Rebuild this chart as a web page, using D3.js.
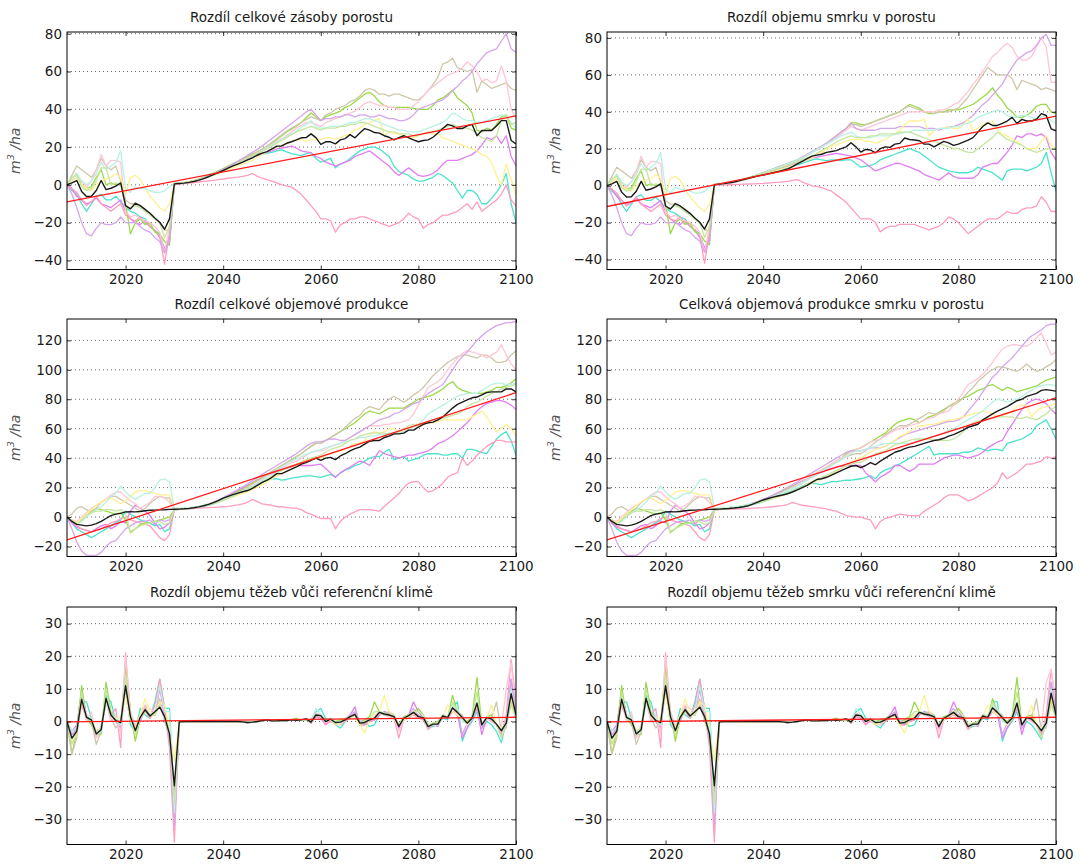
<!DOCTYPE html>
<html><head><meta charset="utf-8">
<script src="https://cdn.jsdelivr.net/npm/d3@7"></script>
<style>body{margin:0;background:#fff}text{font-family:"DejaVu Sans",sans-serif}</style>
</head><body><svg id="c" width="1080" height="864"></svg>
<script>
// ---------- categories ----------
const firstYear = 2008, lastYear = 2100;
const xTickLabels = [2020, 2040, 2060, 2080, 2100];
const titles = ["Rozdíl celkové zásoby porostu","Rozdíl objemu smrku v porostu","Rozdíl celkové objemové produkce","Celková objemová produkce smrku v porostu","Rozdíl objemu těžeb vůči referenční klimě","Rozdíl objemu těžeb smrku vůči referenční klimě"];
const yTicks12 = [-40,-20,0,20,40,60,80];
const yTicks34 = [-20,0,20,40,60,80,100,120];
const yTicks56 = [-30,-20,-10,0,10,20,30];
const yRange1 = [-44.8, 80.9], yRange2 = [-45.4, 83.2], yRange3 = [-26.8, 134.5], yRange4 = [-26.8, 134.5], yRange5 = [-37.7, 35.1], yRange6 = [-37.7, 35.1];
const seriesColors = ["#4ce3cc","#e27ef2","#ff9dbd","#9ada4a","#cfc7aa","#ffc6d6","#d6a6ea","#fff092","#b8f2e4","#c6e6a0"];
// red linear trend, values at first and last year
const trend1 = [-9, 36.5], trend2 = [-11.3, 37.7], trend3 = [-15.5, 84.5], trend4 = [-15.5, 81], trend5 = [-0.1, 1.3], trend6 = [-0.1, 1.3];

// ---------- panel 1 ----------
const p1_A=[0,-3,-5,-10,-14,-10,-6,-5,-8,-8,-6,-9,-12,-14,-15,-17,-18,-22,-24,-26,-34,-30,0.5,0.7,1,1.4,2,2.7,3.5,4.5,5.5,6.6,7.8,9,10.2,11.4,12.5,13.6,14.6,15.5,16.2,16.8,17.2,18,18.5,17.5,16.5,16,15.5,16.5,17,14,12,13,14,9,11,12,14,16,18,19,20,20,19,17,15,10,7,6,5,3,2,2,3,4,6,5,3,1,-3,-7,-3,-3,-5,-10,-10,-7,-4,0,6,-10,-20];
const p1_B=[0,-2,-6,-8,-10,-9,-7,-10,-11,-12,-10,-8,-14,-18,-20,-21,-19,-22,-24,-28,-34,-28,0.4,0.6,0.9,1.3,1.8,2.4,3.2,4.2,5.2,6.3,7.5,8.8,10,11.2,12.4,13.5,14.5,15.5,16.5,17.3,18,19,19.5,20,20.5,19.5,18,17.5,17,15,14,12,11,10,11,12,13,15,16,17,18,16,14,12,10,7,5,7,9,7,5,4.5,5,6,8,11,13,13,13,14,15,16,18,21,25,24,26,22,26,15,10];
const p1_C=[0,-2,-4,-8,-11,-9,-6,-10,-12,-14,-12,-10,-16,-18,-19,-17,-20,-22,-24,-27,-42,-25,0.2,0.4,0.6,0.9,1.2,1.5,1.8,2.1,2.4,2.8,3.1,3.5,3.8,4.1,4.5,5,6,4.5,3.5,2.8,2,1,0,-0.5,-1.2,-3,-5,-8,-11,-14,-18,-18,-19,-25,-21,-20,-18,-18,-17,-17,-18,-19,-20,-21,-22,-21,-20,-18,-15,-17,-18,-23,-21,-20,-18,-16,-16,-15,-14,-12,-10,-13,-9,-14,-12,-10,-8,-5,0,-8,-11];
const p1_D=[0,3,6,0,-2,-1,4,8,0,1,0,1,-10,-26,-20,-18,-21,-20,-25,-26,-30,-32,0.8,1,1.3,1.7,2.3,3,3.9,5,6.2,7.4,8.6,9.9,11.2,12.5,13.8,15,16.3,17.5,19,20.5,22,24,26,28,29.5,31,33,35.5,38,36,34,36,37,38,39,41,42,44,46,48,49,47,44,42,41,41,41,41,41,40.5,40,40,40,42,45,46,48,50,46,44,42,38,29,28,30,29,32,36,37,30,29];
const p1_E=[0,5,10,8,6,4,8,14,10,8,10,2,-8,-10,-10,-12,-14,-15,-18,-20,-24,-24,0.6,0.9,1.2,1.6,2.2,2.9,3.7,4.6,5.6,6.8,8,9.2,10.5,11.8,13,14.4,15.8,17.3,18.8,20.5,22.5,24.5,26.5,28.5,30,31.5,33,34.5,36,35,34,37,38,40,41,42,44,45,47,50,51,50,48,48,47,48,48,47,46,45,45,47,50,53,57,64,65,67,62,61,60,61,49,55,53,51,52,53,54,51,50];
const p1_F=[0,2,4,2,-1,2,8,16,10,13,13,12,-14,-17,-16,-18,-19,-20,-22,-25,-36,-22,0.4,0.7,1,1.4,2,2.6,3.4,4.3,5.3,6.4,7.6,8.8,10,11.3,12.6,14,15.4,16.8,18.2,19.8,21.5,23,24.5,26,28,30,31.5,33,33,32,31,33,34,35,36,37,38,39,41,43,44,43,42,42,41,41,40,40,40,42,44,47,50,52,54,56,58,59,60,62,65,63,60,55,56,54,55,63,55,40,35];
const p1_G=[0,-5,-12,-20,-26,-27,-23,-20,-21,-21,-20,-17,-20,-20,-20,-22,-24,-25,-28,-30,-36,-30,0.5,0.8,1.1,1.5,2.1,2.8,3.7,4.7,5.8,7,8.3,9.6,11,12.4,14,15.6,17.2,18.8,20.5,22.5,24.5,26.5,28.5,30.5,32.5,34.5,36.5,38.5,40,37,34,35,35,36,36,37,37,36,37,37,36,36,37,36,35,35,34,34,35,37,40,41,42,43,44,45,47,50,52,55,57,60,64,67,70,71,72,76,80,72,70];
const p1_H=[0,2,4,0,-2,-3,0,2,3,4,6,4,-5,4,5,3,-2,-6,-9,-12,-14,-10,0.6,0.8,1.1,1.5,2,2.6,3.3,4.1,5,6,7,8,9,10,11,12,13,14.5,16,17.5,19,20,21,22,23,24,24,23,24,24,24,25,25,24,25,26,27,29,30,32,33,34,35,26,28,27,27,26,25,25,26,27,28,27,27,25,24,23,22,21,20,19,18,16,15,12,5,0,11,3,-5];
const p1_I=[0,3,6,2,0,2,6,12,8,10,12,18,-2,-4,-1,-2,-2,-3,-4,-4,-3,-1,0.5,0.8,1.1,1.5,2,2.6,3.4,4.3,5.3,6.4,7.6,8.8,10,11.2,12.5,13.8,15.1,16.5,18,19.5,21,22.5,24,25.5,27,28.5,30.5,32,34,31,30,30,31,31,31,32,33,33,34,35,35,34,33,32,31,30,29,29,28,28,28,29,30,31,32,33,35,38,37,35,34,34,33,33,34,35,36,37,36,33,30];
const p1_J=[0,4,5,-1,-3,-2,2,9,9,0,1,0,-12,-12,-11,-12,-14,-16,-18,-20,-28,-22,0.7,0.9,1.2,1.6,2.1,2.7,3.5,4.4,5.4,6.5,7.7,8.9,10.1,11.3,12.6,13.9,15.2,16.5,17.8,19,20.5,22,23.5,25,26.5,28,29,30,31,30,29,30,30,30,31,31,32,32,33,33,32,31,30,29,28,28,27,27,27,26,26,27,28,28,29,30,31,32,31,30,30,29,27,25,24,23,26,34,37,32,33];
const p1_mean=[0,1,2.3,-3.5,-6.2,-6,-3,2.3,-2.5,-1.8,-0.7,1,-11,-12.7,-9.7,-11,-13,-15,-17.5,-19.8,-23.5,-18,0.5,0.7,0.9,1.3,1.8,2.5,3.3,4.3,5.4,6.5,7.6,8.8,10,11,12,13.2,14.3,15.8,16.8,17.6,19,20.5,20.6,22,22.8,23.8,24.9,25,27,25,21.4,22.8,22.8,21.7,23.8,24.5,26.6,24.9,27.4,29.8,29,27.7,27.4,26,25.2,23.8,25,26,24.9,23.8,22.8,23.5,23.8,25.2,27.4,29.8,32,31.2,29.8,29.8,31.2,32,26,28.8,28.8,28.8,31.2,34,34,23.5,21.7];

// ---------- panel 2 ----------
const p2_A=[0,-3,-5,-10,-14,-10,-6,-5,-8,-8,-6,-9,-12,-14,-15,-17,-18,-22,-24,-26,-34,-30,0.5,0.7,1,1.4,1.9,2.5,3.2,4,4.8,5.5,6.2,6.9,7.6,8.3,9,9.7,10.5,11.3,12.2,13,14,14.5,14,13.5,14,14,13.5,14,14,12,10,10.5,11,12,14,15,16,17,18,19,20,19,18,16,14,12,10,9,8,7.5,7,7,7,8,10,9,8,7,5,3,8,9,9,9,8,9,10,12,18,7,-3];
const p2_B=[0,-2,-6,-8,-10,-9,-7,-10,-11,-12,-10,-8,-14,-18,-20,-21,-19,-22,-24,-28,-34,-28,0.4,0.6,0.9,1.3,1.8,2.4,3.1,3.9,4.7,5.5,6.3,7.1,8,8.8,9.6,10.5,11.4,12.3,13.2,14,15,15.5,16,16.5,17,17.5,17,16.5,16,15,14,12,10,8,9,10,11,12,12,11,10,9,8,6,5,4,3,5,7,5,4,4,4,4,6,10,11,12,12,15,18,22,27,26,28,28,27,28,26,18,14];
const p2_C=[0,-2,-4,-8,-11,-9,-6,-10,-12,-14,-12,-10,-16,-18,-19,-17,-20,-22,-24,-27,-42,-25,0.2,0.3,0.4,0.5,0.6,0.7,0.8,0.9,1,1.1,1.2,1.4,1.6,1.8,2,2.3,2.8,3.3,2,1,0,-0.5,-1,-2,-3,-5,-7,-9,-12,-15,-18,-18,-18,-20,-25,-23,-22,-22,-21,-21,-21,-21,-22,-23,-24,-23,-22,-20,-17,-18,-20,-23,-26,-24,-22,-20,-18,-18,-18,-16,-14,-15,-15,-13,-12,-12,-11,-6,-9,-14,-14];
const p2_D=[0,3,6,0,-2,-1,4,8,0,1,0,1,-10,-26,-20,-18,-21,-20,-25,-26,-30,-32,0.8,1,1.3,1.7,2.2,2.8,3.5,4.3,5.2,6.1,7,8,9,10,11,11.8,12.5,13.5,15,16.5,18,19.5,21,23,25,27,29,31,34,34,33,33,34,35,36,37,38,39,40,42,44,43,42,40,39,39,40,40,41,41,41,42,43,44,46,48,50,53,49,46,42,40,37,37,38,40,43,44,44,40,39];
const p2_E=[0,5,10,8,6,4,8,14,10,8,10,2,-8,-10,-10,-12,-14,-15,-18,-20,-24,-24,0.6,0.9,1.2,1.6,2.1,2.7,3.4,4.2,5.1,6,7,8,9,10,11,12,13,14,15.5,17,18.5,20,21.5,23,25,27,29,31,33,33,32,33,34,35,36,37,38,39,40,42,43,42,41,40,40,39,40,40,40,41,42,45,48,52,56,60,64,62,60,60,60,58,52,57,56,55,54,52,53,52,51];
const p2_F=[0,2,4,2,-1,2,8,16,10,13,13,12,-14,-17,-16,-18,-19,-20,-22,-25,-36,-22,0.4,0.7,1,1.4,1.9,2.5,3.2,4,4.9,5.8,6.8,7.8,8.8,9.8,10.8,11.8,12.9,14,15.2,16.5,18,19.5,21,22.5,24,26,28,30,32,31,30,31,32,33,34,35,36,37,38,39,40,40,40,40,40,40,41,41,42,44,45,48,51,55,58,62,66,70,72,75,77,75,70,68,68,70,75,80,75,56,56];
const p2_G=[0,-5,-12,-20,-26,-27,-23,-20,-21,-21,-20,-17,-20,-20,-20,-22,-24,-25,-28,-30,-36,-30,0.5,0.8,1.1,1.5,2,2.6,3.3,4.1,5,5.9,6.9,7.9,8.9,10,11,12,13,14,15.5,17,18.5,20,21.5,23,25,27,29,31,34,31,30,30,30,30,31,31,31,31,32,32,32,32,32,31,31,31,30,31,32,32,33,34,36,38,41,44,46,49,52,55,60,64,68,70,72,73,76,80,82,76,76];
const p2_H=[0,2,4,0,-2,-3,0,2,3,4,6,4,-5,4,5,3,-2,-6,-9,-12,-14,-10,0.6,0.8,1.1,1.5,2,2.5,3.1,3.8,4.5,5.2,6,6.8,7.6,8.4,9.2,10,11,12,13,14,15,16.5,18,19.5,21,22,23,24,25,25,25,24,24,23,24,25,27,28,30,33,35,35,35,36,27,30,31,31,32,31,31,33,36,30,31,33,34,35,30,28,27,25,24,22,20,20,20,24,27,22,20];
const p2_I=[0,3,6,2,0,2,6,12,8,10,12,18,-2,-4,-1,-2,-2,-3,-4,-4,-3,-1,0.5,0.8,1.1,1.5,2,2.6,3.3,4.1,5,5.9,6.8,7.8,8.8,9.8,10.8,11.8,12.9,14,15,16.5,18,19.5,21,22.5,24,25.5,27,28,29,27,26,26,26,27,27,27,27,28,28,29,29,30,30,30,30,30,31,31,31,32,32,33,34,35,37,38,39,40,41,40,38,37,37,38,38,37,36,37,38,35,34];
const p2_J=[0,4,5,-1,-3,-2,2,9,9,0,1,0,-12,-12,-11,-12,-14,-16,-18,-20,-28,-22,0.7,0.9,1.2,1.6,2.1,2.7,3.4,4.2,5,5.8,6.6,7.4,8.3,9.2,10.1,11,12,13,14,15,16,17.5,19,20.5,22,23.5,25,26,27,26,26,26,27,27,28,28,28,28,29,29,29,28,27,26,25,24,23,22,21,20,20,19,18,18,20,22,24,26,29,27,25,24,23,22,20,19,18,19,20,20,20];
const p2_mean=[0,1,2.3,-3.5,-6.2,-6,-3,2.3,-2.5,-1.8,-0.7,1,-11,-12.7,-9.7,-11,-13,-15,-17.5,-19.8,-23.5,-18,0.5,0.8,1.1,1.5,2,2.6,3.3,4,4.7,5.3,5.8,6.4,7,7.6,8.2,9,10.3,11.8,13.2,14.6,16,16.5,17,18,18.5,19,20,21,23.2,21,18.2,19.6,19.3,17.8,20,21,20.7,22.5,22.9,25.8,25,24.7,24.3,22.5,22.5,21,22.5,24,23.2,21.8,22.5,23.6,24.7,26,29,32,34,32.6,32.6,33.7,35,37,33.7,35.9,35,35,36,39,38,30.8,29.7];

// ---------- panel 3 ----------
const p3_A=[0,-4,-8,-10,-12,-14,-12,-10,-8,-6,-4,-2,4,2,0,-2,-3,-4,-6,-5,-10,-8,5,5.2,5.4,5.7,6,6.5,7.2,8,9,10.2,11.5,13,14.5,16,17.5,19,20.5,22,23.5,25,26,26,25,25.5,26.5,27,27.5,28,28,27.5,27,28,29,27,30,32,33,35,36,38,40,41,41,44,46,39,40,41,38,39,40,42,43,43,43,42,42,43,43,40,46,46,45,44,43,48,53,56,58,52,42];
const p3_B=[0,-4,-7,-8,-9,-10,-8,-6,-5,-8,-6,-3,-4,4,8,6,4,1,-4,-8,-7,-4,5,5.2,5.5,5.8,6.2,6.8,7.6,8.6,9.8,11.2,12.8,14.5,16.3,18,19.8,21.6,23.4,25.2,26.8,28,29.5,31,32,33,34,35,35,35,35,35.5,36,33,30,27,30,32,34,36,38,37,35,40,45,43,42,41,40,41,42,42,43,44,45,47,50,51,53,55,58,61,64,68,72,75,77,78,79,79,78,76,73];
const p3_C=[0,-3,-6,-8,-9,-10,-9,-8,-6,-4,-3,-1,0,-2,-3,-4,-5,-6,-10,-14,-16,-12,5,5.2,5.4,5.6,5.8,6,6.2,6.4,6.6,6.8,7,7.3,7.7,8.2,9,10,12,10.5,9,8.5,8,7,7,6.5,6,6,5,3,2,0.5,-1,-1,-1,-8,-3,0,2,3.5,5,5,5,4.5,4,7,10,13,16,20,23,24,24,20,17,18,20,23,27,29,30,40,35,38,42,45,48,50,52,52,51,51,51];
const p3_D=[0,-3,-5,-2,2,4,6,5,4,3,2,3,-2,-10,-8,-5,-4,-4,-3,-2,-1,0,5,5.2,5.5,5.9,6.4,7,7.8,8.7,9.8,11,12.4,14,15.6,17.3,19,21,23,25,27,29,31,33,35,37,39,41,43,45.5,48,50,50,52,54,56,58,60,62,64,67,70,72,71,70,72,74,74,74,74,76,78,80,81,82,83,85,87,90,92,88,86,85,84,84,84,85,86,88,88,89,91,94];
const p3_E=[0,2,6,7,5,3,6,10,12,14,14,12,10,8,6,4,6,9,12,14,13,13,5,5.2,5.5,5.9,6.4,7,7.7,8.5,9.5,10.7,12,13.5,15,16.7,18.5,20.5,22.5,24.5,26.5,28.5,31,33,35,37,39,41,43,45.5,48,50,50,52,54,56,58,61,64,67,69,73,75,74,73,77,80,82,80,78,80,83,85,88,92,96,99,102,105,107,109,110,110,109,108,110,110,108,105,105,106,110,113];
const p3_F=[0,-2,-3,0,3,6,8,10,12,15,17,17,14,11,9,6,8,10,14,14,13,10,5,5.2,5.5,5.9,6.4,7,7.7,8.5,9.4,10.5,11.7,13,14.4,16,17.7,19.5,21.4,23.4,25.5,27.8,30,32,33.5,35,37,38,40,42,44,45,45,46,48,49,50,52,54,56,58,60,62,62,62,63,63,64,64,65,66,70,76,82,88,90,92,95,100,104,108,111,113,112,111,110,108,110,112,117,110,104,100];
const p3_G=[0,-8,-17,-23,-26,-26,-26,-24,-20,-17,-16,-12,-8,-6,-4,-3,-3,-2,-5,-2,-3,-2,5,5.3,5.6,6,6.5,7.2,8,9,10.2,11.6,13.2,15,16.8,18.7,20.6,22.6,24.7,26.8,29,31,33,35,37,39,41,43,45.5,48,50,51,51,52,53,53,52,52,54,56,58,60,62,64,66,67,68,70,71,73,75,77,78,81,84,86,88,90,95,100,105,109,112,116,120,123,126,128,130,131,132,132,133];
const p3_H=[0,-2,-4,-1,2,5,8,10,12,13,11,9,11,14,17,18,18,17,16,15,15,15,6,6,6.2,6.5,6.9,7.4,8,8.7,9.5,10.4,11.4,12.5,13.6,14.8,16,17.3,18.7,20.2,22,24,26,28,29.5,31,33,35,37,38.5,40,40,40,42,43,44,45,46,48,50,50,52,56,58,57,58,60,60,58,58,60,61,62,63,64,64,65,66,66,66,66,66,66,68,70,72,68,63,58,60,63,60,55];
const p3_I=[0,-3,-5,-3,0,3,5,7,10,14,16,21,17,14,12,14,16,16,20,25,26,24,6,6,6.2,6.5,6.9,7.4,8,8.7,9.6,10.6,11.8,13.1,14.5,16,17.6,19.3,21.1,23,25,27.5,30,32,34,36,38,39.5,41,42.5,44,45,46,47,48,49,50,51,52,53,54,54,55,55,56,56,57,57,57,58,59,61,63,66,70,72,74,76,78,80,82,83,84,84,84,86,88,90,91,91,90,90,91];
const p3_J=[0,-2,-5,-2,1,3,4,4,5,5,4,5,3,-11,-8,-6,-5,-4,-3,-3,-5,-4,5,5.2,5.5,5.9,6.3,6.8,7.5,8.3,9.2,10.2,11.3,12.6,14,15.5,17,18.6,20.3,22,24,26,28,30,31.5,33,35,36,37.5,39,40,41,42,44,46,47,48,50,52,53,55,56,57,57,57,57,56,56,58,60,62,63,63,64,65,66,66,67,68,69,70,72,75,77,78,80,82,84,85,87,88,89,90];
const p3_mean=[0,-3,-5,-5.5,-6,-5.5,-4.5,-3,-1,1,2,2.5,3.5,3.7,3.5,3.8,4.3,4.6,4.7,4.9,5,5.2,5.3,5.4,5.6,5.9,6.3,6.9,7.7,8.6,9.8,11.2,12.8,14,15.2,16.2,17.2,18,19.5,21.5,23.5,25,27,29.5,29.5,31,32.5,34,36,37,38.5,40,38.5,40,40.5,39,41.5,43,45,46.5,47.5,49.5,51.5,52,52,54,55,56.5,56.5,57,59,59,61,63,64,64.5,66,68,71,74,76.5,78,79.5,81,81.5,83,84.5,85,85,85,87,87,85];

// ---------- panel 4 ----------
const p4_A=[0,-4,-8,-10,-12,-14,-12,-10,-8,-6,-4,-2,4,2,0,-2,-3,-4,-6,-5,-10,-8,5,5.2,5.4,5.7,6,6.5,7.1,7.8,8.6,9.5,10.5,11.6,12.8,14,15.3,16.6,18,19.5,21,22.5,23,22.5,22,23,24,24,24.5,25,25,25.5,26,27,28,26,30,32,33,35,36,38,40,42,44,46,48,42,43,43,43,43,43,44,44,45,47,46,45,46,46,45,50,51,52,53,55,57,62,64,66,60,53];
const p4_B=[0,-4,-7,-8,-9,-10,-8,-6,-5,-8,-6,-3,-4,4,8,6,4,1,-4,-8,-7,-4,5,5.2,5.5,5.8,6.2,6.7,7.4,8.2,9.2,10.3,11.6,13,14.5,16,17.6,19.2,21,22.8,24.5,26,27.5,29,30.5,32,33,34,34.5,35,35,35,35,30,27,24,27,29,31,35,35,33,31,33,36,36,36,36,38,40,41,42,42,41,40,41,42,44,47,49,51,52,58,63,68,73,77,79,80,79,77,73,70];
const p4_C=[0,-3,-6,-8,-9,-10,-9,-8,-6,-4,-3,-1,0,-2,-3,-4,-5,-6,-10,-14,-16,-12,5,5.1,5.2,5.3,5.4,5.5,5.6,5.8,6,6.2,6.4,6.7,7,7.4,7.8,8.5,10,9,8,7.5,7,6.5,6,5.5,4.5,4,2.5,1,0.5,0,0,-1,-2,-8,-3,-1,0,1,2,1.5,1,1,1,4,6,8,10,13,15,15,15,13,11,12,14,16,18,20,23,30,26,28,30,33,36,36,37,38,41,40,41];
const p4_D=[0,-3,-5,-2,2,4,6,5,4,3,2,3,-2,-10,-8,-5,-4,-4,-3,-2,-1,0,5,5.2,5.5,5.9,6.4,7,7.7,8.5,9.5,10.6,11.8,13.1,14.5,16,17.5,19,20.6,22.2,24,26,28,30,32,34,36,38,40,43,45,46,47,49,51,53,55,57,60,63,65,66,67,66,64,66,68,69,71,73,75,77,79,81,82,84,86,87,89,90,88,86,88,87,85,86,87,88,89,91,93,94,95];
const p4_E=[0,2,6,7,5,3,6,10,12,14,14,12,10,8,6,4,6,9,12,14,13,13,5,5.2,5.5,5.9,6.4,7,7.6,8.3,9.1,10,11,12.2,13.5,15,16.5,18,19.6,21.2,23,25,27,29,31,33,35,37,39,41,42,43,43,45,48,51,53,56,58,60,62,62,63,65,67,69,71,70,70,72,75,76,78,81,85,88,92,95,98,100,102,102,101,100,99,101,104,101,99,100,102,104,107];
const p4_F=[0,-2,-3,0,3,6,8,10,12,15,17,17,14,11,9,6,8,10,14,14,13,10,5,5.2,5.5,5.9,6.4,7,7.7,8.5,9.4,10.4,11.5,12.7,14,15.4,16.9,18.5,20.2,22,24,26,28,30,32,34,36,38,40,42,44,46,47,49,51,52,53,55,57,59,60,61,62,63,64,66,67,68,70,71,72,76,80,85,90,92,94,97,101,105,110,114,116,117,117,116,116,118,122,125,118,110,112];
const p4_G=[0,-8,-17,-23,-26,-26,-26,-24,-20,-17,-16,-12,-8,-6,-4,-3,-3,-2,-5,-2,-3,-2,5,5.3,5.6,6,6.5,7.1,7.8,8.6,9.6,10.7,12,13.4,15,16.6,18.4,20.2,22.1,24,26,28,30,32,34,36,38,40,42,44,45,45,45,46,47,47,47,48,50,52,54,56,57,58,59,60,61,62,63,64,65,65,66,68,72,76,80,85,90,95,98,102,105,108,112,116,120,123,125,127,130,131,131];
const p4_H=[0,-2,-4,-1,2,5,8,10,12,13,11,9,11,14,17,18,18,17,16,15,15,15,6,6,6.2,6.5,6.9,7.4,8,8.6,9.3,10,10.8,11.7,12.6,13.6,14.6,15.7,17,18.4,20,21.5,23,24.5,26,27.5,29,31,33,35,37,39,40,42,44,46,47,48,50,52,55,56,58,60,62,62,63,63,64,65,66,66,67,68,69,70,71,72,71,70,68,69,70,72,75,76,76,68,72,74,75,76,77];
const p4_I=[0,-3,-5,-3,0,3,5,7,10,14,16,21,17,14,12,14,16,16,20,25,26,24,6,6,6.2,6.5,6.9,7.4,8,8.7,9.5,10.4,11.4,12.5,13.7,15,16.4,17.9,19.5,21.2,23,25,27,29,31,33,35,37,39,41,43,45,45,46,47,48,49,50,50,50,50,50,50,51,52,53,54,55,56,57,59,60,62,64,66,68,70,72,75,78,80,79,78,79,80,82,84,86,88,89,90,90,89];
const p4_J=[0,-2,-5,-2,1,3,4,4,5,5,4,5,3,-11,-8,-6,-5,-4,-3,-3,-5,-4,5,5.2,5.5,5.8,6.2,6.7,7.3,8,8.8,9.7,10.6,11.6,12.7,13.8,15,16.3,17.7,19.2,20.8,22.5,24,25.5,27,28.5,30,31.5,33,35,36,37,37,39,41,43,44,45,47,49,50,51,52,53,53,53,53,52,52,52,52,53,55,58,62,64,65,66,67,67,68,68,68,68,67,67,68,67,66,68,70,73,75];
const p4_mean=[0,-3,-5,-5.5,-6,-5.5,-4.5,-3,-1,1,2,2.5,3.5,3.7,3.5,3.8,4.3,4.6,4.7,4.9,5,5.2,5.3,5.4,5.6,5.8,6.1,6.5,7,7.7,9,10.3,11.6,12.6,13.5,14.3,15,15.8,17,18.5,20,21.5,23.5,25.5,26,27,28.5,30,31.5,33,34.5,35,33.5,35,37,35.5,38,40,42,44,45,46.5,47.5,48,49,50,51,52,52.5,53.5,55,56,57.5,59,61,62,63,66,68,70,72,73.5,75,77,79,80,82,83,84,86,86.5,86,85.5];

// ---------- panel 5 ----------
const p5_A=[0,-6,-2,6,6,1,-4,-3,8,6,0,-1,10,-1,-3,4,2,1,6,13,4,4,-25,0,0,0,0,0,0,0,0,0,0,0,0,0,-0.1,-0.3,-0.2,0,0.3,0.6,0.2,0.3,0.4,0.2,0.6,0.5,0.6,0.5,0.5,3,4,1,0.2,-1,-2,0,1,2,-1,-0.5,-1.5,-1,2,3,2,1,-2,0.5,1,2.5,2,1,-2,-1.5,-1,1,0.5,5,6,-6,-2,0,3,-2,0,-1,-3,-6.5,0,10,3];
const p5_B=[0,-3,-1,9,2,0,-3,-2,6,2,0,-2,10,2,-3,0,4,2,2,10,3,-6,-22,0,0,0,0,0,0,0,0,0,0,0,0,0,-0.2,-0.4,-0.2,0,0.2,0.4,0.1,0.2,0.3,0.3,0.4,0.3,0.5,0.9,-0.5,1.5,1,-1,0.5,-1,-0.5,0.5,2,4.5,-1,-1,0,0.5,2,3,2.5,1.5,-2,1,2,6,3,1,-2,-1,-1.5,2,1,3,2,-5,-2,1,4,-4,1,0.5,-1,-3,-1,13,2];
const p5_C=[0,-4,-3,5,1,1,-5,-2,6,2,4,-8,21,2,-2,2,3,1,5,13,4,-8,-37,0,0,0,0,0,0,0,0,0,0,0,0,0,0,-0.3,-0.2,0,0.2,0.4,0.2,0.2,0.2,0.4,0.5,0.3,0.5,0.7,-0.5,1.5,1.5,-1,0,-0.5,-1,0,1,2,-1,-1,0,0.5,2.5,2,1.5,1,-5,0.5,1.5,2,1,0.5,-2.5,-1,-1,1.5,1,3,2,1,-1,1,4,-2,1,0,-1,-4,2,19,6];
const p5_D=[0,-10,-3,11,1,-1,-4,-4,12,3,0,-1,17,3,-6,1,3,2,2,5,2,-2,-27,0,0,0,0,0,0,0,0,0,0,0,0,0,-0.1,-0.3,-0.1,0,0.3,0.6,0.3,0.3,0.4,0.3,0.6,1,0.3,0.6,0,2,1.5,0.5,1,0,0.5,1,1.5,2.5,0,0.5,1.5,6,3,2.5,2,1.5,-1,1.5,2,3,4,2,-1,-0.5,0,2,1,8,3,1,0,1.5,13.5,-1,1.5,2,-1,-3,-1,7,1];
const p5_E=[0,-10,-5,8,1,0,-7,-3,7,1,-2,0,12,1,-4,1,5,1,3,7,0,-4,-30,0,0,0,0,0,0,0,0,0,0,0,0,0,-0.1,-0.2,-0.2,0,0.3,0.5,0.2,0.2,0.3,0.4,0.5,0.4,0.4,0.6,-0.5,2,2,0.5,0.5,-0.5,0,0.5,1,2,-1,-0.5,0.5,1,3,2.5,3,2,-1,1,2,3,2,1,-2,-1,-0.5,1.5,1.5,3,3,2,-1,1,5,-0.5,1,1,6,-3,-1,6,1];
const p5_F=[0,-5,-4,7,0,3,-5,-1,6,0,2,-4,20,3,-1,2,5,4,3,6,2,-3,-30,0,0,0,0,0,0,0,0,0,0,0,0,0,-0.1,-0.3,-0.2,0,0.3,0.5,0.2,0.2,0.3,0.3,0.5,0.4,0.5,0.8,-0.3,2.5,2,0,1,-0.5,-1,0.5,1.5,2.5,-0.5,0,1,1,2.5,2,1.5,1,-3,0.5,1.5,2.5,1,1,-2,-0.5,-0.5,1.5,1,4,2,1,-1,0.5,6,-1,1,0,-1,-2,10,18,4];
const p5_G=[0,-4,-2,8,2,0,-3,-3,7,2,0,0,9,1,-3,1,3,2,2,11,1,-5,-32,0,0,0,0,0,0,0,0,0,0,0,0,0,-0.1,-0.3,-0.2,0,0.3,0.5,0.2,0.2,0.3,0.3,0.5,0.4,0.5,0.8,-0.2,2,1.5,0,0.7,-0.3,-0.2,0.5,2,3,0,0,0.5,1,3,2,2,1.5,-1.5,1,2,4,1.5,1,-1.5,-1,-1,2,1,4,3,-4,-0.5,1,4,-2,1,1,-1,-3,-2,13,3];
const p5_H=[0,-6,-4,6,2,1,-3,-2,6,2,1,1,8,0,-2,2,7,3,2,6,5,-2,-12,0,0,0,0,0,0,0,0,0,0,0,0,0,-0.1,-0.3,-0.2,0,0.3,0.5,0.2,0.2,0.3,0.3,0.5,0.4,0.5,0.8,-0.2,2,1.8,0,0.5,-1,-0.5,0.5,1.5,1,-1,-3.5,0.5,2,3,8,3,1,-1,0.5,1.5,2.5,1.5,1.5,-1.5,-1,-1,1.5,5,3,2,1,-1,1,5,-1,1,5,-1,-2,-1,7,2];
const p5_I=[0,-3,-2,7,2,1,-4,-3,6,2,1,-1,11,2,-3,1,3,2,3,11,3,3,-28,0,0,0,0,0,0,0,0,0,0,0,0,0,-0.1,-0.3,-0.2,0,0.3,0.5,0.2,0.2,0.3,0.3,0.5,0.4,0.5,0.8,-0.2,4,2,0,1,0,-0.5,0.5,1.5,2,-0.5,0,0.5,1,3,2.5,2,1.5,-1,1,2,3,1.5,1.5,-1.5,-1,-1,2,1.5,5,4,0,-0.5,1,6,-1,1,1,-1,-2.5,0,10,2];
const p5_J=[0,-7,-4,9,1,0,-3,-2,10,2,0,0,14,1,-4,1,3,2,2,5,1,-4,-25,0,0,0,0,0,0,0,0,0,0,0,0,0,-0.1,-0.3,-0.2,0,0.3,0.6,0.3,0.3,0.3,0.3,0.5,0.6,0.4,0.8,0,2,1.5,0.5,0.7,-0.5,0,0.5,1.5,2,-0.5,0,1,3,3,2,2,2,-1,1,2,3,3,2,-1,-0.5,-0.5,2,1.5,6,3,1,-0.5,1.5,9,-1,1.5,1,-1,-5,-1,5,1];
const p5_mean=[0,-5.1,-3,6.8,1.3,0.5,-3.8,-2.5,7.1,2,0.3,-0.3,11,1.5,-2.8,1.3,3.6,1.7,3,4.4,1.5,-3.8,-19.7,-0.1,0,0,0,0,0,0,0,0,0,0,0,0,-0.1,-0.3,-0.2,0,0.3,0.5,0.2,0.2,0.3,0.3,0.5,0.4,0.5,0.8,-0.2,2,1.8,0,0.7,-0.3,-0.2,0.5,1.5,2.2,-0.5,-0.3,0.5,1,2.8,2.3,2,1.5,-1.5,1,1.8,2.8,1.5,1.2,-1.6,-0.8,-0.8,1.7,1.2,4.2,2.8,1.2,-0.5,1,5.6,-1,1.2,0.8,-0.8,-2.8,-0.5,8.5,2];

// ---------- panel 6 ----------
const p6_A=[0,-6,-2,6,6,1,-4,-3,8,6,0,-1,10,-1,-3,4,2,1,6,13,4,4,-25,0,0,0,0,0,0,0,0,0,0,0,0,0,-0.1,-0.3,-0.2,0,0.3,0.6,0.2,0.3,0.4,0.2,0.6,0.5,0.6,0.5,0.5,3,4,1,0.2,-1,-2,0,1,2,-1,-0.5,-1.5,-1,2,3,2,1,-2,0.5,1,2.5,2,1,-2,-1.5,-1,1,0.5,6,6,-6,-2,0,3,-2,0,-1,-3,-5.5,0,9,3];
const p6_B=[0,-3,-1,9,2,0,-3,-2,6,2,0,-2,10,2,-3,0,4,2,2,10,3,-6,-22,0,0,0,0,0,0,0,0,0,0,0,0,0,-0.2,-0.4,-0.2,0,0.2,0.4,0.1,0.2,0.3,0.3,0.4,0.3,0.5,0.9,-0.5,1.5,1,-1,0.5,-1,-0.5,0.5,2,4.5,-1,-1,0,0.5,2,3,2.5,1.5,-2,1,2,6,3,1,-2,-1,-1.5,2,1,3,2,-5,-2,1,4,-4,1,0.5,-1,-3,-1,12,2];
const p6_C=[0,-4,-3,5,1,1,-5,-2,6,2,4,-8,21,2,-2,2,3,1,5,13,4,-8,-37,0,0,0,0,0,0,0,0,0,0,0,0,0,0,-0.3,-0.2,0,0.2,0.4,0.2,0.2,0.2,0.4,0.5,0.3,0.5,0.7,-0.5,1.5,1.5,-1,0,-0.5,-1,0,1,2,-1,-1,0,0.5,2.5,2,1.5,1,-5,0.5,1.5,2,1,0.5,-2.5,-1,-1,1.5,1,3,2,1,-1,1,4,-2,1,0,-1,-4,2,16,5];
const p6_D=[0,-10,-3,11,1,-1,-4,-4,12,3,0,-1,17,3,-6,1,3,2,2,5,2,-2,-27,0,0,0,0,0,0,0,0,0,0,0,0,0,-0.1,-0.3,-0.1,0,0.3,0.6,0.3,0.3,0.4,0.3,0.6,1,0.3,0.6,0,2,1.5,0.5,1,0,0.5,1,1.5,2.5,0,0.5,1.5,6,3,2.5,2,1.5,-1,1.5,2,3,4,2,-1,-0.5,0,2,1,7,3,1,0,1.5,13.5,-1,1.5,2,-1,-3,-1,7,1];
const p6_E=[0,-10,-5,8,1,0,-7,-3,7,1,-2,0,12,1,-4,1,5,1,3,7,0,-4,-30,0,0,0,0,0,0,0,0,0,0,0,0,0,-0.1,-0.2,-0.2,0,0.3,0.5,0.2,0.2,0.3,0.4,0.5,0.4,0.4,0.6,-0.5,2,2,0.5,0.5,-0.5,0,0.5,1,2,-1,-0.5,0.5,1,3,2.5,3,2,-1,1,2,3,2,1,-2,-1,-0.5,1.5,1.5,3,3,2,-1,1,5,-0.5,1,1,7,-3,-1,6,1];
const p6_F=[0,-5,-4,7,0,3,-5,-1,6,0,2,-4,20,3,-1,2,5,4,3,6,2,-3,-30,0,0,0,0,0,0,0,0,0,0,0,0,0,-0.1,-0.3,-0.2,0,0.3,0.5,0.2,0.2,0.3,0.3,0.5,0.4,0.5,0.8,-0.3,2.5,2,0,1,-0.5,-1,0.5,1.5,2.5,-0.5,0,1,1,2.5,2,1.5,1,-3,0.5,1.5,2.5,1,1,-2,-0.5,-0.5,1.5,1,4,2,1,-1,0.5,6,-1,1,0,-1,-2,12,16,4];
const p6_G=[0,-4,-2,8,2,0,-3,-3,7,2,0,0,9,1,-3,1,3,2,2,11,1,-5,-32,0,0,0,0,0,0,0,0,0,0,0,0,0,-0.1,-0.3,-0.2,0,0.3,0.5,0.2,0.2,0.3,0.3,0.5,0.4,0.5,0.8,-0.2,2,1.5,0,0.7,-0.3,-0.2,0.5,2,3,0,0,0.5,1,3,2,2,1.5,-1.5,1,2,4,1.5,1,-1.5,-1,-1,2,1,4,3,-4,-0.5,1,4,-2,1,1,-1,-3,-2,12,3];
const p6_H=[0,-6,-4,6,2,1,-3,-2,6,2,1,1,8,0,-2,2,7,3,2,6,5,-2,-12,0,0,0,0,0,0,0,0,0,0,0,0,0,-0.1,-0.3,-0.2,0,0.3,0.5,0.2,0.2,0.3,0.3,0.5,0.4,0.5,0.8,-0.2,2,1.8,0,0.5,-1,-0.5,0.5,1.5,1,-1,-3.5,0.5,2,3,8,3,1,-1,0.5,1.5,2.5,1.5,1.5,-1.5,-1,-1,1.5,5,3,2,1,-1,1,5,-1,1,5,-1,-2,-1,7,2];
const p6_I=[0,-3,-2,7,2,1,-4,-3,6,2,1,-1,11,2,-3,1,3,2,3,11,3,3,-28,0,0,0,0,0,0,0,0,0,0,0,0,0,-0.1,-0.3,-0.2,0,0.3,0.5,0.2,0.2,0.3,0.3,0.5,0.4,0.5,0.8,-0.2,4,2,0,1,0,-0.5,0.5,1.5,2,-0.5,0,0.5,1,3,2.5,2,1.5,-1,1,2,3,1.5,1.5,-1.5,-1,-1,2,1.5,5,4,0,-0.5,1,6,-1,1,1,-1,-2.5,0,10,2];
const p6_J=[0,-7,-4,9,1,0,-3,-2,10,2,0,0,14,1,-4,1,3,2,2,5,1,-4,-25,0,0,0,0,0,0,0,0,0,0,0,0,0,-0.1,-0.3,-0.2,0,0.3,0.6,0.3,0.3,0.3,0.3,0.5,0.6,0.4,0.8,0,2,1.5,0.5,0.7,-0.5,0,0.5,1.5,2,-0.5,0,1,3,3,2,2,2,-1,1,2,3,3,2,-1,-0.5,-0.5,2,1.5,6,3,1,-0.5,1.5,9,-1,1.5,1,-1,-5,-1,5,1];
const p6_mean=[0,-5.1,-3,6.8,1.3,0.5,-3.8,-2.5,7.1,2,0.3,-0.3,11,1.5,-2.8,1.3,3.6,1.7,3,4.4,1.5,-3.8,-19.7,-0.1,0,0,0,0,0,0,0,0,0,0,0,0,-0.1,-0.3,-0.2,0,0.3,0.5,0.2,0.2,0.3,0.3,0.5,0.4,0.5,0.8,-0.2,2,1.8,0,0.7,-0.3,-0.2,0.5,1.5,2.2,-0.5,-0.3,0.5,1,2.8,2.3,2,1.5,-1.5,1,1.8,2.8,1.5,1.2,-1.6,-0.8,-0.8,1.7,1.2,4.2,2.8,1.2,-0.5,1,5.6,-1,1.2,0.8,-0.8,-2.8,-0.5,8.7,2];

// ---------- assemble ----------
const years = d3.range(firstYear, lastYear + 1);
const panels = [
  {title: titles[0], yDomain: yRange1, yTicks: yTicks12, series: [p1_A,p1_B,p1_C,p1_D,p1_E,p1_F,p1_G,p1_H,p1_I,p1_J], mean: p1_mean, trend: trend1},
  {title: titles[1], yDomain: yRange2, yTicks: yTicks12, series: [p2_A,p2_B,p2_C,p2_D,p2_E,p2_F,p2_G,p2_H,p2_I,p2_J], mean: p2_mean, trend: trend2},
  {title: titles[2], yDomain: yRange3, yTicks: yTicks34, series: [p3_A,p3_B,p3_C,p3_D,p3_E,p3_F,p3_G,p3_H,p3_I,p3_J], mean: p3_mean, trend: trend3},
  {title: titles[3], yDomain: yRange4, yTicks: yTicks34, series: [p4_A,p4_B,p4_C,p4_D,p4_E,p4_F,p4_G,p4_H,p4_I,p4_J], mean: p4_mean, trend: trend4},
  {title: titles[4], yDomain: yRange5, yTicks: yTicks56, series: [p5_A,p5_B,p5_C,p5_D,p5_E,p5_F,p5_G,p5_H,p5_I,p5_J], mean: p5_mean, trend: trend5},
  {title: titles[5], yDomain: yRange6, yTicks: yTicks56, series: [p6_A,p6_B,p6_C,p6_D,p6_E,p6_F,p6_G,p6_H,p6_I,p6_J], mean: p6_mean, trend: trend6}
];

const colX = [67, 607], rowY = [32, 319, 607], W = 449, H = 237.5;
const svg = d3.select("#c");

panels.forEach((p, i) => {
  const c = i % 2, r = Math.floor(i / 2);
  const g = svg.append("g").attr("transform", `translate(${colX[c]},${rowY[r]})`);
  const x = d3.scaleLinear().domain([firstYear, lastYear]).range([0, W]);
  const y = d3.scaleLinear().domain(p.yDomain).range([H, 0]);
  const cid = "clip" + i;
  g.append("clipPath").attr("id", cid).append("rect").attr("width", W).attr("height", H);

  // grid
  g.append("g").selectAll("line").data(p.yTicks).join("line")
    .attr("x1", 0).attr("x2", W).attr("y1", d => y(d)).attr("y2", d => y(d))
    .attr("stroke", "#444").attr("stroke-width", 0.8).attr("stroke-dasharray", "1,3");

  const line = d3.line().x((d, k) => x(years[k])).y(d => y(d));
  const plot = g.append("g").attr("clip-path", `url(#${cid})`);
  p.series.forEach((s, k) => {
    plot.append("path").datum(s).attr("d", line).attr("fill", "none")
      .attr("stroke", seriesColors[k]).attr("stroke-width", 1.3).attr("stroke-linejoin", "round");
  });
  plot.append("path").datum(p.mean).attr("d", line).attr("fill", "none")
    .attr("stroke", "#1a1a1a").attr("stroke-width", 1.4).attr("stroke-linejoin", "round");
  plot.append("line").attr("x1", x(firstYear)).attr("x2", x(lastYear))
    .attr("y1", y(p.trend[0])).attr("y2", y(p.trend[1]))
    .attr("stroke", "#ff1a1a").attr("stroke-width", 1.3);

  // axes
  const fmt = d3.format("d");
  g.append("g").attr("transform", `translate(0,${H})`)
    .call(d3.axisBottom(x).tickValues(xTickLabels).tickSize(-4).tickPadding(5).tickFormat(fmt));
  g.append("g").call(d3.axisTop(x).tickValues(xTickLabels).tickSize(-4).tickFormat(""));
  g.append("g").call(d3.axisLeft(y).tickValues(p.yTicks).tickSize(-4).tickPadding(5).tickFormat(fmt));
  g.append("g").attr("transform", `translate(${W},0)`).call(d3.axisRight(y).tickValues(p.yTicks).tickSize(-4).tickFormat(""));
  g.selectAll(".domain").remove();
  g.selectAll(".tick line").attr("stroke", "#000").attr("stroke-width", 0.8);
  g.selectAll(".tick text").attr("font-size", 13.5).attr("fill", "#1a1a1a").attr("font-family", "DejaVu Sans");

  g.append("rect").attr("width", W).attr("height", H).attr("fill", "none").attr("stroke", "#000").attr("stroke-width", 1);

  g.append("text").attr("x", W / 2).attr("y", -10).attr("text-anchor", "middle")
    .attr("font-size", 13.5).attr("fill", "#1a1a1a").text(p.title);

  const yl = g.append("text").attr("transform", `translate(-47,${H / 2}) rotate(-90)`)
    .attr("text-anchor", "middle").attr("font-family", "DejaVu Serif").attr("font-style", "italic")
    .attr("font-size", 14).attr("fill", "#555");
  yl.append("tspan").text("m");
  yl.append("tspan").attr("dy", -6).attr("font-size", 9.5).text("3");
  yl.append("tspan").attr("dy", 6).text(" /");
  yl.append("tspan").text("ha");
});
</script></body></html>
